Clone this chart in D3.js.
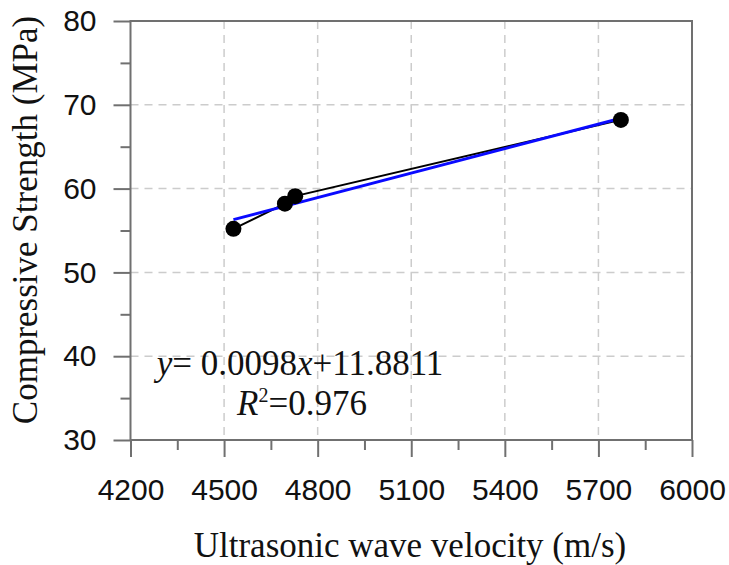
<!DOCTYPE html>
<html>
<head>
<meta charset="utf-8">
<script src="https://cdn.jsdelivr.net/npm/d3@7"></script>
<style>
  body { margin: 0; background: #fff; }
  svg { display: block; }
</style>
</head>
<body>
<svg id="canvas" width="729" height="565"></svg>
<script>
// values
const velocity = [4530, 4695, 4728, 5772];
const strength = [55.2, 58.2, 59.1, 68.2];
// ends of the fitted line as drawn
const fitVelocity = [4530, 5772];
const fitStrength = [56.3, 68.4];

const xTicks = [4200, 4500, 4800, 5100, 5400, 5700, 6000];
const xMinor = [4350, 4650, 4950, 5250, 5550, 5850];
const yTicks = [30, 40, 50, 60, 70, 80];
const yMinor = [35, 45, 55, 65, 75];

const svg = d3.select("#canvas");
const margin = {left: 130.5, top: 21, right: 37, bottom: 125};
const width = 729 - margin.left - margin.right;
const height = 565 - margin.top - margin.bottom;

const x = d3.scaleLinear().domain([4200, 6000]).range([0, width]);
const y = d3.scaleLinear().domain([30, 80]).range([height, 0]);

const g = svg.append("g").attr("transform", `translate(${margin.left},${margin.top})`);

const axisColor = "#707070";

// dashed grid
g.selectAll(".vgrid")
  .data(xTicks.slice(1, -1))
  .enter().append("line")
  .attr("x1", d => x(d)).attr("x2", d => x(d))
  .attr("y1", 0).attr("y2", height)
  .attr("stroke", "#cccccc").attr("stroke-width", 1.5)
  .attr("stroke-dasharray", "8,6");

g.selectAll(".hgrid")
  .data(yTicks.slice(1, -1))
  .enter().append("line")
  .attr("x1", 0).attr("x2", width)
  .attr("y1", d => y(d)).attr("y2", d => y(d))
  .attr("stroke", "#cccccc").attr("stroke-width", 1.5)
  .attr("stroke-dasharray", "8,6");

// frame
g.append("rect")
  .attr("width", width).attr("height", height)
  .attr("fill", "none").attr("stroke", axisColor).attr("stroke-width", 2);

function styleAxis(sel) {
  sel.select(".domain").remove();
  sel.selectAll("line").attr("stroke", axisColor).attr("stroke-width", 2);
  sel.selectAll("text")
    .attr("fill", "#111")
    .style("font-family", "'Liberation Sans', Arial, sans-serif")
    .style("font-size", "30px");
}

// minor ticks
g.append("g")
  .attr("transform", `translate(0,${height})`)
  .call(d3.axisBottom(x).tickValues(xMinor).tickSize(10).tickFormat(""))
  .call(styleAxis);
g.append("g")
  .call(d3.axisLeft(y).tickValues(yMinor).tickSize(10).tickFormat(""))
  .call(styleAxis);

// major ticks with labels
g.append("g")
  .attr("transform", `translate(0,${height})`)
  .call(d3.axisBottom(x).tickValues(xTicks).tickSize(17).tickPadding(22).tickFormat(d3.format("d")))
  .call(styleAxis);
g.append("g")
  .call(d3.axisLeft(y).tickValues(yTicks).tickSize(17).tickPadding(17).tickFormat(d3.format("d")))
  .call(styleAxis);

// measured points joined by black line
const pts = velocity.map((v, i) => [v, strength[i]]);
const line = d3.line().x(d => x(d[0])).y(d => y(d[1]));

g.append("path")
  .datum(pts)
  .attr("d", line)
  .attr("fill", "none").attr("stroke", "#000").attr("stroke-width", 2);

// fitted line
const fit = fitVelocity.map((v, i) => [v, fitStrength[i]]);
g.append("path")
  .datum(fit)
  .attr("d", line)
  .attr("fill", "none").attr("stroke", "#0a0aff").attr("stroke-width", 3);

g.selectAll("circle")
  .data(pts)
  .enter().append("circle")
  .attr("cx", d => x(d[0])).attr("cy", d => y(d[1]))
  .attr("r", 8).attr("fill", "#000");

// equation
const serif = "'Liberation Serif', 'Times New Roman', serif";
const eq = svg.append("text")
  .attr("x", 300).attr("y", 375)
  .attr("text-anchor", "middle")
  .style("font-family", serif).style("font-size", "35px").attr("fill", "#111");
eq.append("tspan").style("font-style", "italic").text("y");
eq.append("tspan").text("= 0.0098");
eq.append("tspan").style("font-style", "italic").text("x");
eq.append("tspan").text("+11.8811");

const r2 = svg.append("text")
  .attr("x", 302).attr("y", 415)
  .attr("text-anchor", "middle")
  .style("font-family", serif).style("font-size", "35px").attr("fill", "#111");
r2.append("tspan").style("font-style", "italic").text("R");
r2.append("tspan").attr("dy", -13).style("font-size", "20px").text("2");
r2.append("tspan").attr("dy", 13).text("=0.976");

// axis titles
svg.append("text")
  .attr("x", 410).attr("y", 557)
  .attr("text-anchor", "middle")
  .style("font-family", serif).style("font-size", "35px").attr("fill", "#111")
  .text("Ultrasonic wave velocity (m/s)");

svg.append("text")
  .attr("transform", "translate(37,220) rotate(-90)")
  .attr("text-anchor", "middle")
  .style("font-family", serif).style("font-size", "35px").attr("fill", "#111")
  .text("Compressive Strength (MPa)");
</script>
</body>
</html>
